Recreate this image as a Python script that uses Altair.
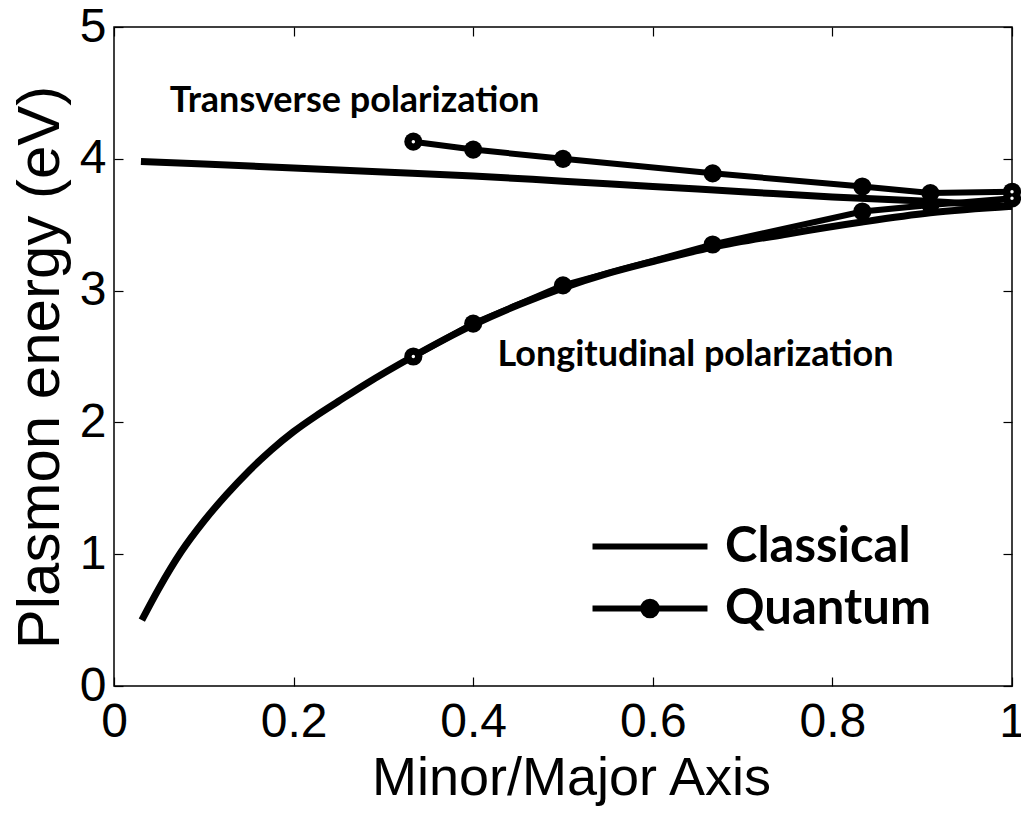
import altair as alt
import pandas as pd

# ---- data ----
# Classical model (solid lines)
cl_trans_x = [0.03, 0.1, 0.2, 0.3, 0.4, 0.5, 0.6, 0.7, 0.8, 0.9, 1.0]
cl_trans_y = [3.98, 3.96, 3.93, 3.90, 3.87, 3.83, 3.79, 3.75, 3.71, 3.68, 3.64]
cl_long_x = [0.031, 0.05, 0.075, 0.1, 0.125, 0.15, 0.175, 0.2, 0.225, 0.25, 0.28,
             0.333, 0.4, 0.45, 0.5, 0.55, 0.6, 0.667, 0.75, 0.833, 0.909, 1.0]
cl_long_y = [0.50, 0.74, 1.02, 1.25, 1.45, 1.63, 1.79, 1.93, 2.05, 2.16, 2.29,
             2.50, 2.74, 2.89, 3.02, 3.13, 3.22, 3.33, 3.43, 3.52, 3.59, 3.64]
# Quantum model (lines with markers)
q_x = [1/3, 0.4, 0.5, 2/3, 5/6, 10/11, 1.0]
q_trans_y = [4.13, 4.07, 4.00, 3.89, 3.79, 3.74, 3.75]
q_long_y = [2.50, 2.75, 3.04, 3.35, 3.60, 3.65, 3.70]
# small white centres seen in some markers
hole_x = [1/3, 1/3, 1.0, 1.0]
hole_y = [4.13, 2.50, 3.75, 3.70]
# annotations
ann_text = ["Transverse polarization", "Longitudinal polarization"]
ann_x = [0.062, 0.427]
ann_y = [4.44, 2.51]
x_ticks = [0, 0.2, 0.4, 0.6, 0.8, 1]
y_ticks = [0, 1, 2, 3, 4, 5]

W, H = 898, 659

classical = pd.concat([
    pd.DataFrame({"x": cl_trans_x, "y": cl_trans_y, "pol": "Transverse", "model": "Classical"}),
    pd.DataFrame({"x": cl_long_x, "y": cl_long_y, "pol": "Longitudinal", "model": "Classical"}),
], ignore_index=True)
quantum = pd.concat([
    pd.DataFrame({"x": q_x, "y": q_trans_y, "pol": "Transverse", "model": "Quantum"}),
    pd.DataFrame({"x": q_x, "y": q_long_y, "pol": "Longitudinal", "model": "Quantum"}),
], ignore_index=True)
holes = pd.DataFrame({"x": hole_x, "y": hole_y})
ann = pd.DataFrame({"text": ann_text, "x": ann_x, "y": ann_y})
both = pd.concat([classical, quantum], ignore_index=True)

xs = alt.Scale(domain=[0, 1], nice=False, zero=False)
ys = alt.Scale(domain=[0, 5], nice=False, zero=False)

LABEL_FONT = "Liberation Sans"

def tick_axis(orient, vals):
    return alt.Axis(orient=orient, offset=-(H if orient in ("top", "bottom") else W),
                    values=vals, labels=False, domain=False, grid=False, ticks=True,
                    tickSize=9, tickWidth=1.2, tickColor="black", title=None)

x_main = alt.Axis(values=x_ticks, format="~g", domain=False, grid=False, ticks=False,
                  tickSize=0, labelFont=LABEL_FONT, labelFontSize=48, labelColor="black",
                  labelPadding=12, labelFlush=False,
                  title="Minor/Major Axis", titleFont=LABEL_FONT, titleFontSize=54,
                  titleFontWeight="normal", titleColor="black",
                  titleX=457, titleY=92, titleBaseline="middle")
y_main = alt.Axis(values=y_ticks, format="d", domain=False, grid=False, ticks=False,
                  tickSize=0, labelFont=LABEL_FONT, labelFontSize=48, labelColor="black",
                  labelPadding=8, labelFlush=False,
                  title="Plasmon energy (eV)", titleFont=LABEL_FONT, titleFontSize=60,
                  titleFontWeight="normal", titleColor="black",
                  titleX=-74, titleY=340, titleBaseline="middle", titleAlign="center", titleAngle=-90)

cl_layer = alt.Chart(classical).mark_line(color="black", strokeWidth=7, strokeCap="butt",
                                          interpolate="monotone").encode(
    x=alt.X("x:Q", scale=xs, axis=x_main),
    y=alt.Y("y:Q", scale=ys, axis=y_main),
    detail="pol:N", order="x:Q")

q_line = alt.Chart(quantum).mark_line(color="black", strokeWidth=6).encode(
    x=alt.X("x:Q", scale=xs, axis=tick_axis("top", x_ticks)),
    y=alt.Y("y:Q", scale=ys, axis=tick_axis("right", y_ticks)),
    detail="pol:N", order="x:Q")

q_pts = alt.Chart(quantum).mark_circle(color="black", size=330, opacity=1).encode(
    x=alt.X("x:Q", scale=xs, axis=tick_axis("bottom", x_ticks)),
    y=alt.Y("y:Q", scale=ys, axis=tick_axis("left", y_ticks)))

hole_layer = alt.Chart(holes).mark_circle(color="white", size=12, opacity=1).encode(
    x=alt.X("x:Q", scale=xs, axis=None),
    y=alt.Y("y:Q", scale=ys, axis=None))

ann_layer = alt.Chart(ann).mark_text(font="Lato", fontWeight="bold", fontSize=36,
                                      align="left", baseline="middle", color="black").encode(
    x=alt.X("x:Q", scale=xs, axis=None),
    y=alt.Y("y:Q", scale=ys, axis=None),
    text="text:N")

def circ(r):
    return f"M{r},0A{r},{r},0,1,1,{-r},0A{r},{r},0,1,1,{r},0"

line_path = "M-3.833,0L3.833,0"
dot_path = line_path + circ(0.15) + circ(0.45)

legend_layer = alt.Chart(both).mark_point(filled=False, color="black",
                                          strokeWidth=6, opacity=0, size=900).encode(
    x=alt.X("x:Q", scale=xs, axis=None),
    y=alt.Y("y:Q", scale=ys, axis=None),
    shape=alt.Shape("model:N",
                    scale=alt.Scale(domain=["Classical", "Quantum"], range=[line_path, dot_path]),
                    legend=alt.Legend(orient="none", legendX=511.5, legendY=495, title=None,
                                      padding=0, symbolSize=900, symbolStrokeWidth=6,
                                      symbolStrokeColor="black",
                                      symbolOpacity=1, labelFont="Lato", labelFontWeight="bold",
                                      labelFontSize=49, labelColor="black", labelOffset=50.5,
                                      labelLimit=0, rowPadding=12)))

chart = alt.layer(cl_layer, q_line, q_pts, hole_layer, ann_layer, legend_layer).resolve_axis(
    x="independent", y="independent"
).properties(
    width=W, height=H,
    autosize=alt.AutoSizeParams(type="none"),
    padding={"left": 114, "top": 27, "right": 9, "bottom": 130},
    background="white",
).configure_view(stroke="black", strokeWidth=1.5)

chart.save("out.html", embed_options={"renderer": "svg", "actions": False})
